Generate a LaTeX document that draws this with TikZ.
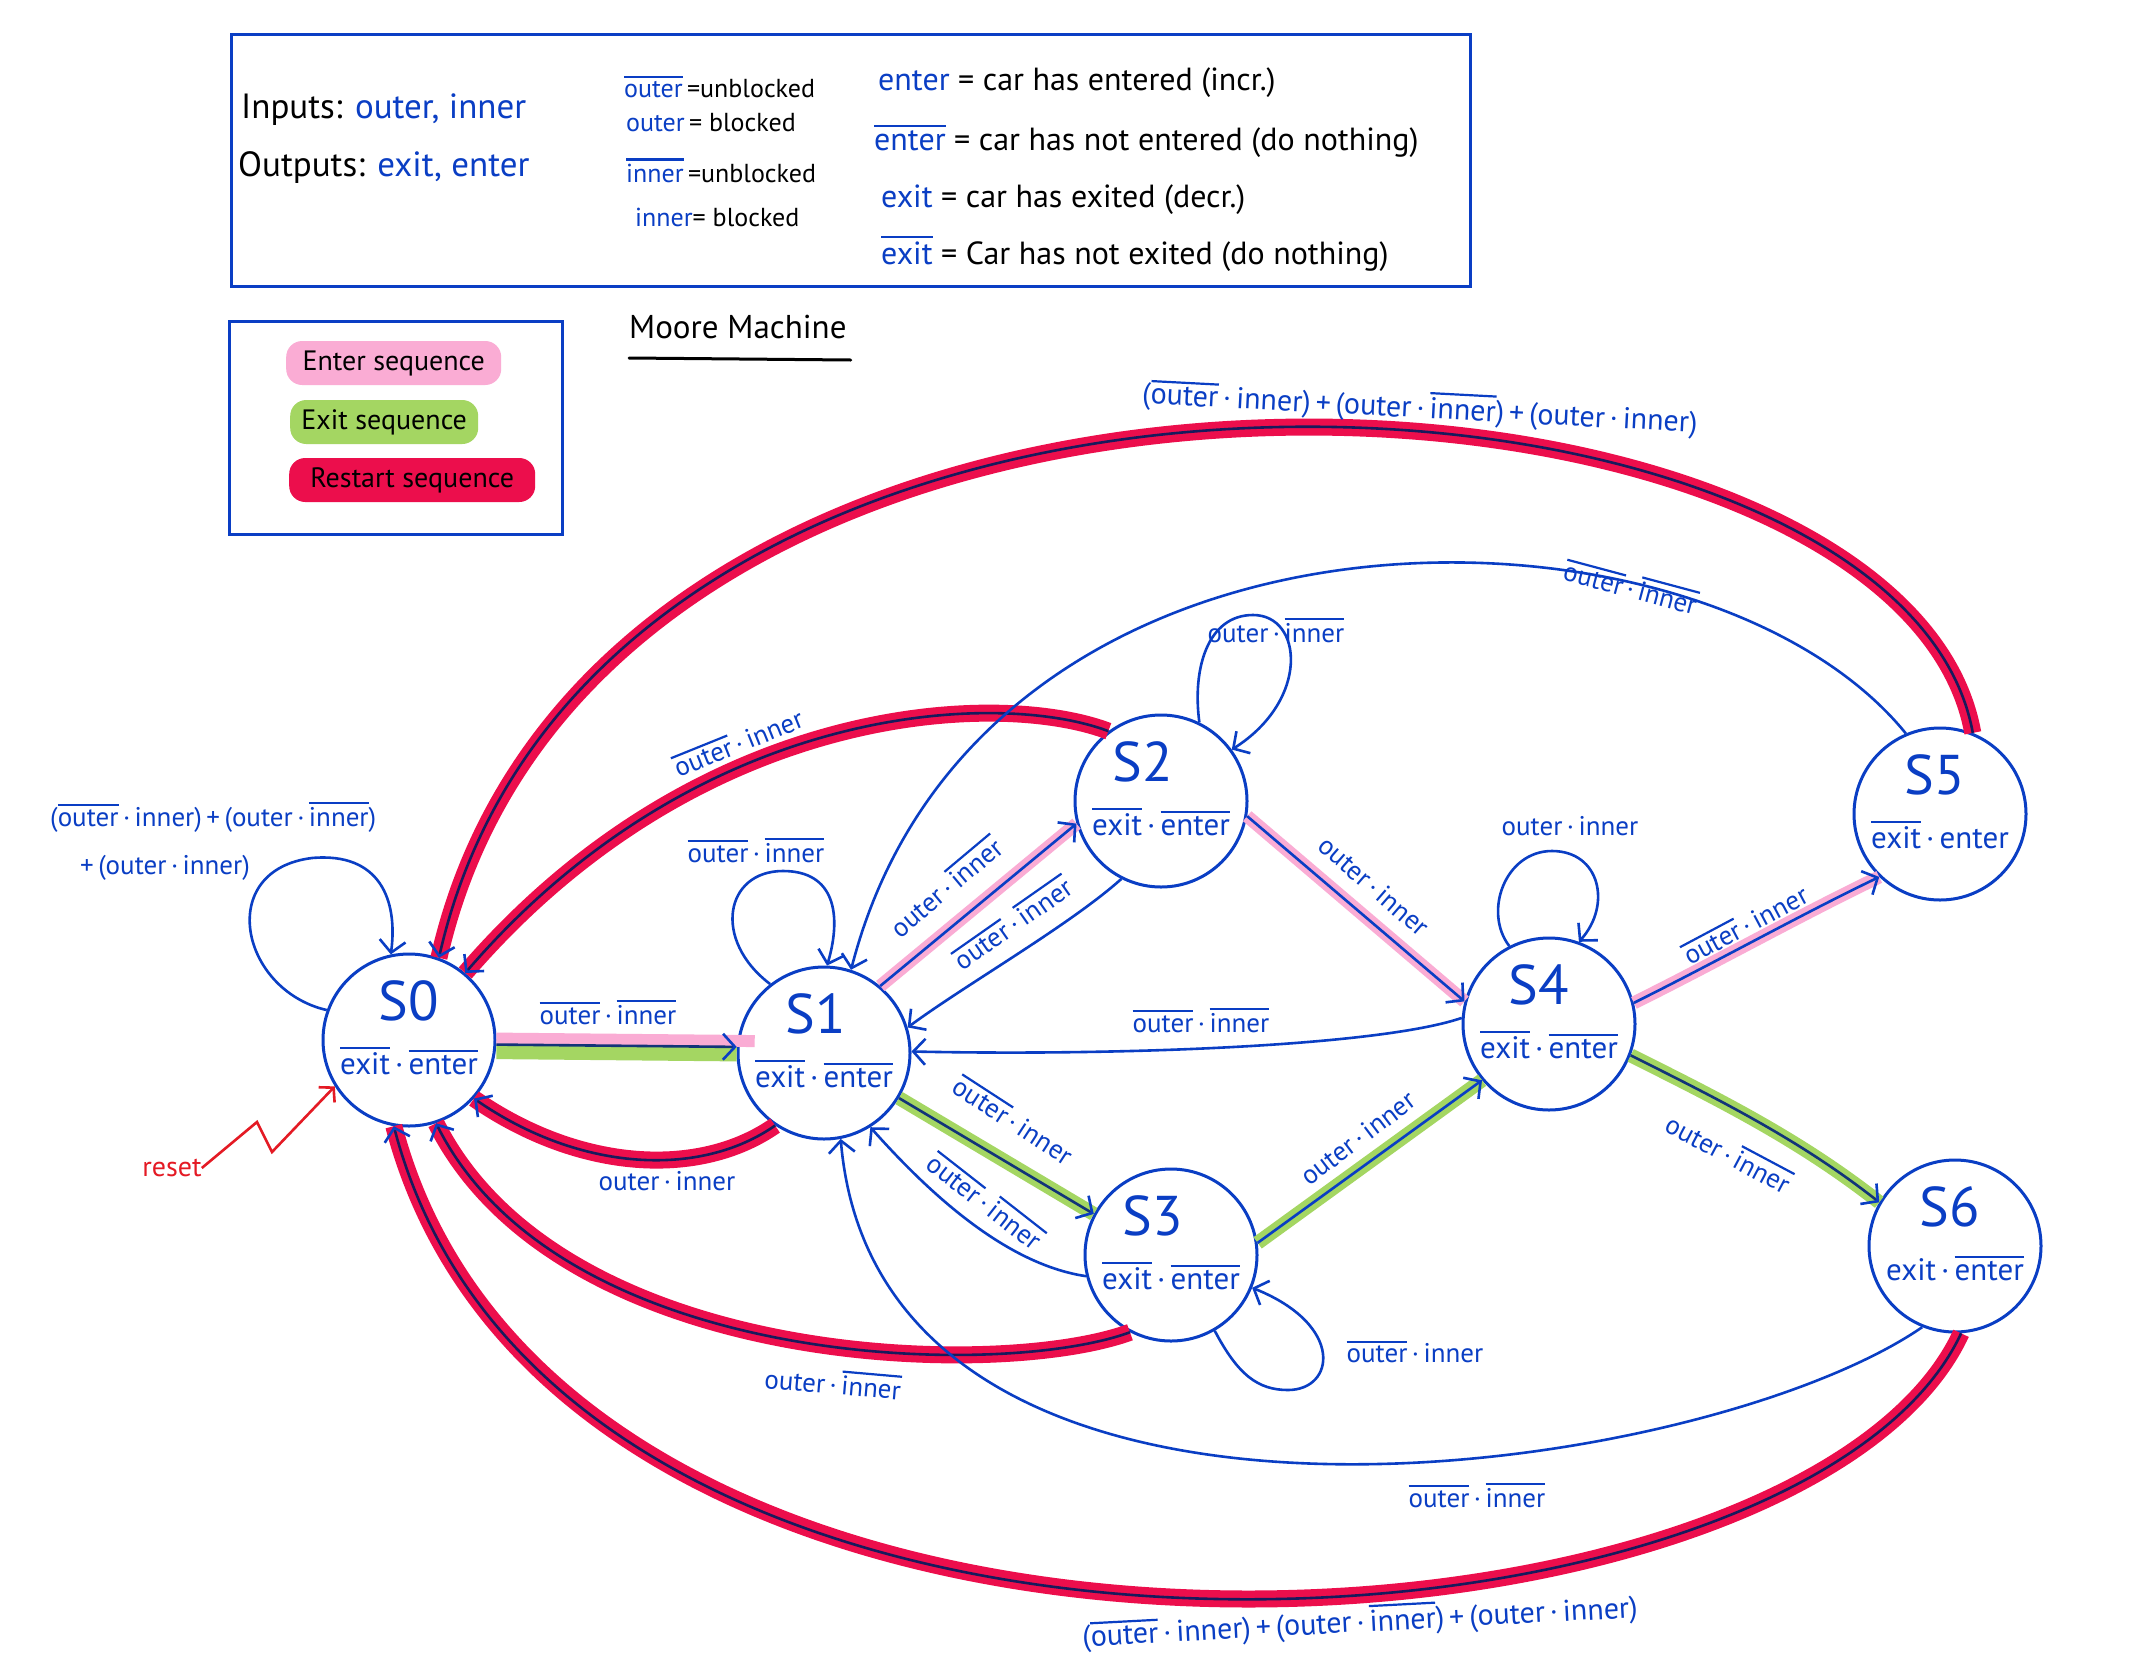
\documentclass[tikz,border=0pt]{standalone}
\usepackage{fontspec}
\setmainfont{PT Sans}
\usetikzlibrary{arrows.meta,calc}

\definecolor{sblue}{RGB}{10,62,196}
\definecolor{snavy}{RGB}{24,26,92}
\definecolor{sdeep}{RGB}{18,52,120}
\definecolor{hred}{RGB}{236,14,76}
\definecolor{hpink}{RGB}{250,172,212}
\definecolor{hgreen}{RGB}{164,214,98}
\definecolor{rreset}{RGB}{228,26,36}

% overlined word (negated signal)
\newcommand{\ov}[1]{\vbox{\hrule height 2.2pt\kern 3pt\hbox{#1}}}
\newcommand{\md}{\,·\,}

\begin{document}
\begin{tikzpicture}[x=1pt,y=-1pt,
  state/.style={circle, draw=sblue, line width=3pt, minimum size=172pt, inner sep=0pt},
  stname/.style={text=sblue, font=\fontsize{56}{60}\selectfont, anchor=base, inner sep=0pt},
  stout/.style={text=sblue, font=\fontsize{31}{34}\selectfont, anchor=base, inner sep=0pt},
  lab/.style={text=sblue, font=\fontsize{27}{30}\selectfont, inner sep=0pt},
  biglab/.style={text=sblue, font=\fontsize{30}{34}\selectfont, inner sep=0pt},
  edge/.style={draw=sblue, line width=2.6pt, -{Straight Barb[length=12pt,width=26pt]}},
  darkedge/.style={draw=snavy, line width=2.6pt, -{Straight Barb[length=12pt,width=26pt,color=sblue]}},
  greenedge/.style={draw=sdeep, line width=2.6pt, -{Straight Barb[length=12pt,width=26pt,color=sblue]}},
  hlred/.style={draw=hred, line width=17pt},
  hlpink/.style={draw=hpink, line width=13pt},
  hlgreen/.style={draw=hgreen, line width=14pt},
  legtxt/.style={font=\fontsize{35}{38}\selectfont, anchor=base west, inner sep=0pt},
  midtxt/.style={font=\fontsize{26}{28}\selectfont, anchor=base west, inner sep=0pt},
  deftxt/.style={font=\fontsize{32}{34}\selectfont, anchor=base west, inner sep=0pt},
  blob/.style={font=\fontsize{28}{32}\selectfont, anchor=west, rounded corners=16pt, inner xsep=9pt, minimum height=44pt},
  frame/.style={draw=sblue, line width=3pt}]

\fill[white, use as bounding box] (0,0) rectangle (2135,1665);

% ---------- definitions box ----------
\draw[frame] (231,34) rectangle (1470,286);
\node[legtxt] (inp) at (241,118) {Inputs: \textcolor{sblue}{outer, inner}};
\node[legtxt] (outp) at (238,176) {Outputs: \textcolor{sblue}{exit, enter}};
\node[midtxt] (m1) at (624,97) {\textcolor{sblue}{\ov{outer}}\,=unblocked};
\node[midtxt] (m2) at (626,131) {\textcolor{sblue}{outer}\,= blocked};
\node[midtxt] (m3) at (626,182) {\textcolor{sblue}{\ov{inner}}\,=unblocked};
\node[midtxt] (m4) at (635,226) {\textcolor{sblue}{inner}= blocked};
\node[deftxt] (d1) at (878,90) {\textcolor{sblue}{enter} = car has entered (incr.)};
\node[deftxt] (d2) at (874,150) {\textcolor{sblue}{\ov{enter}} = car has not entered (do nothing)};
\node[deftxt] (d3) at (881,207) {\textcolor{sblue}{exit} = car has exited (decr.)};
\node[deftxt] (d4) at (881,264) {\textcolor{sblue}{\ov{exit}} = Car has not exited (do nothing)};

% ---------- colour key ----------
\draw[frame] (229,321) rectangle (562,534);
\node[blob, fill=hpink, minimum width=215pt] (kenter) at (286,363) {Enter sequence};
\node[blob, fill=hgreen, minimum width=188pt] (kexit) at (290,422) {Exit sequence};
\node[blob, fill=hred, minimum width=246pt] (krestart) at (289,480) {Restart sequence};

% ---------- title ----------
\node[font=\fontsize{33}{36}\selectfont, anchor=base west, inner sep=0pt] (title) at (629,338) {Moore Machine};
\draw[line width=3pt, line cap=round] ($(title.base west)+(0,20)$) -- ($(title.base east)+(4,22)$);

% ---------- states ----------
\node[state] (s0) at (409,1040) {};
\node[state] (s1) at (824,1053) {};
\node[state] (s2) at (1161,801) {};
\node[state] (s3) at (1171,1255) {};
\node[state] (s4) at (1549,1024) {};
\node[state] (s5) at (1940,814) {};
\node[state] (s6) at (1955,1246) {};

\node[stname] (s0n) at ($(s0)+(0,-20)$) {S0};
\node[stout]  (s0o) at ($(s0)+(0,34)$) {\ov{exit}\md\ov{enter}};
\node[stname] (s1n) at ($(s1)+(-8,-20)$) {S1};
\node[stout]  (s1o) at ($(s1)+(0,34)$) {\ov{exit}\md\ov{enter}};
\node[stname] (s2n) at ($(s2)+(-18,-20)$) {S2};
\node[stout]  (s2o) at ($(s2)+(0,34)$) {\ov{exit}\md\ov{enter}};
\node[stname] (s3n) at ($(s3)+(-18,-20)$) {S3};
\node[stout]  (s3o) at ($(s3)+(0,34)$) {\ov{exit}\md\ov{enter}};
\node[stname] (s4n) at ($(s4)+(-10,-20)$) {S4};
\node[stout]  (s4o) at ($(s4)+(0,34)$) {\ov{exit}\md\ov{enter}};
\node[stname] (s5n) at ($(s5)+(-5,-20)$) {S5};
\node[stout]  (s5o) at ($(s5)+(0,34)$) {\ov{exit}\md enter};
\node[stname] (s6n) at ($(s6)+(-5,-20)$) {S6};
\node[stout]  (s6o) at ($(s6)+(0,34)$) {exit\md\ov{enter}};

% ---------- highlight bands ----------
\draw[hlgreen, line width=15pt, transform canvas={yshift=-7pt}] (s0.-3) -- (s1.176);
\draw[hlpink, line width=12pt, transform canvas={yshift=6pt}, shorten >=-18pt] (s0.-3) -- (s1.176);
\draw[hlpink] (s1.50) -- (s2.195);
\draw[hlpink] (s2.-10) -- (s4.165);
\draw[hlpink] (s4.14) .. controls (1720,960) and (1800,915) .. (s5.226);
\draw[hlgreen] (s1.-31) -- (s3.152);
\draw[hlgreen] (s3.8) -- (s4.220);
\draw[hlgreen] (s4.-21) .. controls (1720,1100) and (1800,1140) .. (s6.150);
\draw[hlred] (s1.-124) .. controls (700,1178) and (580,1172) .. (s0.-42);
\draw[hlred] (s2.127) .. controls (1000,690) and (700,700) .. (s0.50);
\draw[hlred] (s5.68) .. controls (1900,330) and (600,250) .. (s0.70);
\draw[hlred] (s3.-118) .. controls (1000,1380) and (560,1370) .. (s0.-72);
\draw[hlred] (s6.-86) .. controls (1800,1680) and (560,1760) .. (s0.-100);

% ---------- transitions ----------
% S0
\draw[edge] (s0.160) .. controls (240,990) and (215,870) .. (312,858) .. controls (380,852) and (398,900) .. (s0.102);
\draw[greenedge] (s0.-3) -- (s1.176);
% S1
\draw[darkedge] (s1.-124) .. controls (700,1178) and (580,1172) .. (s0.-42);
\draw[edge] (s1.128) .. controls (712,940) and (725,871) .. (783,871) .. controls (835,871) and (842,915) .. (s1.88);
\draw[edge] (s1.50) -- (s2.195);
\draw[greenedge] (s1.-31) -- (s3.152);
% S2
\draw[edge] (s2.-117) .. controls (1070,925) and (965,985) .. (s1.17);
\draw[darkedge] (s2.127) .. controls (1000,690) and (700,700) .. (s0.50);
\draw[edge] (s2.64) .. controls (1192,668) and (1208,615) .. (1253,615) .. controls (1303,615) and (1310,700) .. (s2.36);
\draw[edge] (s2.-10) -- (s4.165);
% S3
\draw[edge] (s3.194) .. controls (1010,1265) and (935,1200) .. (s1.-58);
\draw[edge] (s3.-60) .. controls (1238,1375) and (1258,1390) .. (1288,1390) .. controls (1335,1390) and (1345,1325) .. (s3.-22);
\draw[edge] (s3.8) -- (s4.220);
\draw[darkedge] (s3.-118) .. controls (1000,1380) and (560,1370) .. (s0.-72);
% S4
\draw[edge] (s4.117) .. controls (1483,912) and (1505,851) .. (1552,851) .. controls (1600,851) and (1612,905) .. (s4.70);
\draw[edge] (s4.176) .. controls (1380,1046) and (1120,1056) .. (s1.1);
\draw[edge] (s4.14) .. controls (1720,960) and (1800,915) .. (s5.226);
\draw[greenedge] (s4.-21) .. controls (1720,1100) and (1800,1140) .. (s6.150);
% S5
\draw[edge] (s5.113) .. controls (1700,480) and (980,470) .. (s1.72);
\draw[darkedge] (s5.68) .. controls (1900,330) and (600,250) .. (s0.70);
% S6
\draw[edge] (s6.-112) .. controls (1700,1480) and (880,1600) .. (s1.-79);
\draw[darkedge] (s6.-86) .. controls (1800,1680) and (560,1760) .. (s0.-100);

% reset
\node[text=rreset, font=\fontsize{28}{30}\selectfont, inner sep=0pt] (rst) at (172,1168) {reset};
\draw[rreset, line width=2.6pt, -{Straight Barb[length=10pt,width=22pt]}]
  (rst.east) -- (257,1122) -- (272,1152) -- (s0.-148);

% ---------- transition labels ----------
\node[lab, anchor=west] (l1a) at (50,817) {(\ov{outer}\md inner)\,+\,(outer\md\ov{inner})};
\node[lab, anchor=west] (l1b) at (80,868) {+\,(outer\md inner)};
\node[lab] (l2) at (608,1012) {\ov{outer}\md\ov{inner}};
\node[lab] (l3) at (667,1181) {outer\md inner};
\node[lab] (l4) at (756,850) {\ov{outer}\md\ov{inner}};
\node[lab, rotate=40] (l5) at (945,886) {outer\md\ov{inner}};
\node[lab, rotate=35] (l6) at (1012,922) {\ov{outer}\md\ov{inner}};
\node[lab, rotate=22] (l7) at (738,742) {\ov{outer}\md inner};
\node[lab] (l8) at (1276,630) {outer\md\ov{inner}};
\node[lab, rotate=-15] (l9) at (1631,586) {\ov{outer}\md\ov{inner}};
\node[biglab, rotate=-3] (l10) at (1420,408) {(\ov{outer}\md inner)\,+\,(outer\md\ov{inner})\,+\,(outer\md inner)};
\node[lab, rotate=-41] (l11) at (1374,886) {outer\md inner};
\node[lab] (l12) at (1570,826) {outer\md inner};
\node[lab] (l13) at (1201,1020) {\ov{outer}\md\ov{inner}};
\node[lab, rotate=28] (l14) at (1745,924) {\ov{outer}\md inner};
\node[lab, rotate=-28] (l15) at (1729,1152) {outer\md\ov{inner}};
\node[lab, rotate=-33] (l16) at (1014,1120) {\ov{outer}\md inner};
\node[lab, rotate=-38] (l17) at (986,1200) {\ov{outer}\md\ov{inner}};
\node[lab] (l18) at (1415,1352) {\ov{outer}\md inner};
\node[lab, rotate=37] (l19) at (1358,1138) {outer\md inner};
\node[lab, rotate=-5] (l20) at (833,1382) {outer\md\ov{inner}};
\node[lab] (l21) at (1477,1495) {\ov{outer}\md\ov{inner}};
\node[biglab, rotate=3] (l22) at (1360,1622) {(\ov{outer}\md inner)\,+\,(outer\md\ov{inner})\,+\,(outer\md inner)};

\end{tikzpicture}
\end{document}
